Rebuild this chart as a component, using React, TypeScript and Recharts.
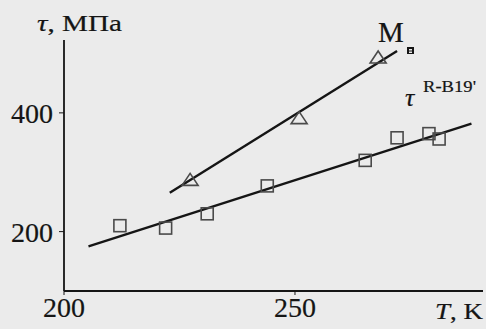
import { ComposedChart, Scatter, XAxis, YAxis } from "recharts";

// temperature T, K and stress tau, MPa
const tempTriangles = [227.3, 250.9, 268.0];
const stressTriangles = [288, 392, 494];

const tempSquares = [212.1, 222.0, 231.0, 244.0, 265.2, 272.1, 279.0, 281.2];
const stressSquares = [210, 206, 230, 277, 320, 358, 365, 356];

// straight fit lines, end points
const fitMTemp = [222.9, 272.1];
const fitMStress = [265.5, 504];
const fitRTemp = [205.3, 288.2];
const fitRStress = [175, 382];

const xTicks = [200, 250];
const yTicks = [200, 400];

const toPoints = (xs: number[], ys: number[]) => xs.map((x, i) => ({ x, y: ys[i] }));

const triangles = toPoints(tempTriangles, stressTriangles);
const squares = toPoints(tempSquares, stressSquares);
const fitM = toPoints(fitMTemp, fitMStress);
const fitR = toPoints(fitRTemp, fitRStress);

const FONT = "Liberation Serif";
const INK = "#151515";
const BG = "#ebebeb";

const Triangle = ({ cx, cy }: any) => (
  <polygon
    points={`${cx},${cy - 6} ${cx - 8},${cy + 6} ${cx + 8},${cy + 6}`}
    fill="none"
    stroke="#4a4a4a"
    strokeWidth={1.6}
  />
);

const Square = ({ cx, cy }: any) => (
  <rect x={cx - 6} y={cy - 6} width={12} height={12} fill="none" stroke="#4a4a4a" strokeWidth={1.6} />
);

const Nothing = () => <g />;

const tickStyle = { fill: INK, stroke: INK, strokeWidth: 0.2, fontSize: 28, fontFamily: FONT };

export default function App() {
  return (
    <div
      style={{
        position: "fixed",
        left: 0,
        top: 0,
        width: 486,
        height: 329,
        background: BG,
        fontFamily: FONT,
      }}
    >
      <ComposedChart width={486} height={329} margin={{ top: 40, right: 3, left: 4, bottom: 8 }}>
        <XAxis
          type="number"
          dataKey="x"
          domain={[200, 290.7]}
          ticks={xTicks}
          height={30}
          tickSize={4}
          tickMargin={2}
          axisLine={{ stroke: INK, strokeWidth: 1.8 }}
          tickLine={{ stroke: INK }}
          tick={tickStyle}
        />
        <YAxis
          type="number"
          dataKey="y"
          domain={[100, 522.7]}
          ticks={yTicks}
          width={60}
          tickSize={5}
          tickMargin={6}
          axisLine={{ stroke: INK, strokeWidth: 1.8 }}
          tickLine={{ stroke: INK }}
          tick={tickStyle}
        />
        <Scatter data={fitM} line={{ stroke: INK, strokeWidth: 2.4 }} shape={Nothing} isAnimationActive={false} />
        <Scatter data={fitR} line={{ stroke: INK, strokeWidth: 2.4 }} shape={Nothing} isAnimationActive={false} />
        <Scatter data={triangles} shape={Triangle} isAnimationActive={false} />
        <Scatter data={squares} shape={Square} isAnimationActive={false} />
      </ComposedChart>
      <svg
        width={486}
        height={329}
        style={{ position: "absolute", left: 0, top: 0, pointerEvents: "none" }}
        fontFamily={FONT}
        fill={INK}
        stroke={INK}
        strokeWidth={0.2}
      >
        <text x={37} y={31} fontSize={24} textLength={85} lengthAdjust="spacingAndGlyphs">
          <tspan fontStyle="italic">τ</tspan>, МПа
        </text>
        <text x={435} y={319} fontSize={23} textLength={48} lengthAdjust="spacingAndGlyphs">
          <tspan fontStyle="italic">T</tspan>, K
        </text>
        <text x={378} y={42} fontSize={29}>
          M
        </text>
        <rect x={407} y={47} width={7} height={7} fill={INK} stroke="none" />
        <rect x={409} y={49} width={3} height={1.5} fill={BG} stroke="none" />
        <rect x={409} y={51.5} width={3} height={1.5} fill={BG} stroke="none" />
        <text x={405} y={106} fontSize={26} fontStyle="italic">
          τ
        </text>
        <text x={423} y={92} fontSize={17} textLength={53} lengthAdjust="spacingAndGlyphs">
          R-B19'
        </text>
      </svg>
    </div>
  );
}
